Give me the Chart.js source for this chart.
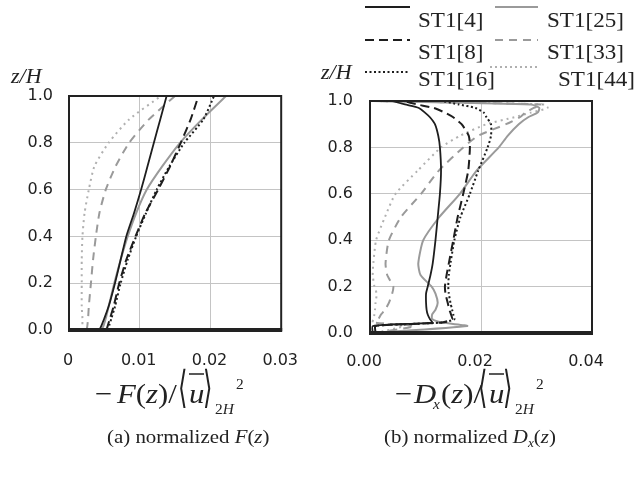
<!DOCTYPE html>
<html>
<head>
<meta charset="utf-8">
<script src="https://cdn.jsdelivr.net/npm/chart.js@4.4.0/dist/chart.umd.min.js"></script>
<style>
  html, body { margin: 0; padding: 0; background: #fff; }
  #page { position: relative; width: 636px; height: 480px; overflow: hidden; }
  canvas { position: absolute; }
  #chartA { left: 0; top: 60px; width: 320px; height: 320px; }
  #chartB { left: 310px; top: 60px; width: 326px; height: 320px; }
  svg { position: absolute; left: 0; top: 0; }
</style>
</head>
<body>
<div id="page">
  <canvas id="chartA" width="320" height="320"></canvas>
  <canvas id="chartB" width="326" height="320"></canvas>
  <svg width="636" height="480" font-family="Liberation Serif" fill="#222">
    <!-- legend -->
    <line x1="365" y1="7" x2="410" y2="7" stroke="#1e1e1e" stroke-width="2"/>
    <line x1="495" y1="7" x2="538" y2="7" stroke="#9a9a9a" stroke-width="2"/>
    <line x1="365" y1="40" x2="410" y2="40" stroke="#1e1e1e" stroke-width="2" stroke-dasharray="9 5"/>
    <line x1="495" y1="40" x2="538" y2="40" stroke="#9a9a9a" stroke-width="2" stroke-dasharray="8 6"/>
    <line x1="365" y1="72" x2="410" y2="72" stroke="#1e1e1e" stroke-width="2" stroke-dasharray="2 2.5"/>
    <line x1="490" y1="67" x2="538" y2="67" stroke="#b0b0b0" stroke-width="2" stroke-dasharray="2 3"/>
    <g font-size="21">
      <text transform="translate(418,27) scale(1.1,1)">ST1[4]</text>
      <text transform="translate(547,27) scale(1.1,1)">ST1[25]</text>
      <text transform="translate(418,59) scale(1.1,1)">ST1[8]</text>
      <text transform="translate(547,59) scale(1.1,1)">ST1[33]</text>
      <text transform="translate(418,86) scale(1.1,1)">ST1[16]</text>
      <text transform="translate(558,86) scale(1.1,1)">ST1[44]</text>
    </g>
    <!-- z/H labels -->
    <g font-size="20" font-style="italic">
      <text transform="translate(11,83) scale(1.1,1)">z/H</text>
      <text transform="translate(321,79) scale(1.1,1)">z/H</text>
    </g>
    <!-- axis title (a) -->
    <g font-size="28">
      <text transform="translate(95,403) scale(1.1,1)">−</text>
      <text transform="translate(117,403) scale(1.1,1)"><tspan font-style="italic">F</tspan>(<tspan font-style="italic">z</tspan>)/</text>
      <text transform="translate(178,402) scale(0.55,1)" font-family="DejaVu Sans" font-size="44">⟨</text>
      <text transform="translate(189,403) scale(1.1,1)" font-style="italic">u</text>
      <text transform="translate(203,402) scale(0.55,1)" font-family="DejaVu Sans" font-size="44">⟩</text>
      <text transform="translate(215,414) scale(1.1,1)" font-size="14">2<tspan font-style="italic">H</tspan></text>
      <text transform="translate(236,389) scale(1.1,1)" font-size="14">2</text>
    </g>
    <line x1="189" y1="374" x2="204" y2="374" stroke="#222" stroke-width="1.5"/>
    <!-- axis title (b) -->
    <g font-size="28">
      <text transform="translate(395,403) scale(1.1,1)">−</text>
      <text transform="translate(414,403) scale(1.1,1)" font-style="italic">D</text>
      <text transform="translate(433,409) scale(1.1,1)" font-style="italic" font-size="14">x</text>
      <text transform="translate(441,403) scale(1.1,1)">(<tspan font-style="italic">z</tspan>)/</text>
      <text transform="translate(478,402) scale(0.55,1)" font-family="DejaVu Sans" font-size="44">⟨</text>
      <text transform="translate(489,403) scale(1.1,1)" font-style="italic">u</text>
      <text transform="translate(503,402) scale(0.55,1)" font-family="DejaVu Sans" font-size="44">⟩</text>
      <text transform="translate(515,414) scale(1.1,1)" font-size="14">2<tspan font-style="italic">H</tspan></text>
      <text transform="translate(536,389) scale(1.1,1)" font-size="14">2</text>
    </g>
    <line x1="489" y1="374" x2="504" y2="374" stroke="#222" stroke-width="1.5"/>
    <!-- captions -->
    <g font-size="19">
      <text transform="translate(107,443) scale(1.1,1)">(a) normalized <tspan font-style="italic">F</tspan>(<tspan font-style="italic">z</tspan>)</text>
      <text transform="translate(384,443) scale(1.1,1)">(b) normalized <tspan font-style="italic">D</tspan><tspan font-style="italic" font-size="12" dy="4">x</tspan><tspan dy="-4">(</tspan><tspan font-style="italic">z</tspan>)</text>
    </g>
  </svg>
</div>
<script>
// heights z/H, shared by all series of a panel
var zA = [0, 0.02, 0.05, 0.1, 0.2, 0.3, 0.4, 0.5, 0.6, 0.7, 0.8, 0.9, 1.0];
var zB = [0, 0.03, 0.045, 0.06, 0.08, 0.1, 0.13, 0.17, 0.2, 0.25, 0.3, 0.4, 0.5,
          0.6, 0.7, 0.8, 0.85, 0.9, 0.93, 0.95, 0.97, 0.985, 1.0];

var seriesNames = ['ST1[4]', 'ST1[8]', 'ST1[16]', 'ST1[25]', 'ST1[33]', 'ST1[44]'];

// (a) -F(z)/<u>^2
var fA_st4  = [0.0043, 0.0046, 0.0050, 0.0056, 0.0065, 0.0073, 0.0081, 0.0092, 0.0102, 0.0111, 0.0120, 0.0129, 0.0138];
var fA_st8  = [0.0053, 0.0055, 0.0058, 0.0063, 0.0071, 0.0081, 0.0094, 0.0108, 0.0126, 0.0143, 0.0158, 0.0172, 0.0183];
var fA_st16 = [0.0055, 0.0057, 0.0060, 0.0065, 0.0073, 0.0083, 0.0095, 0.0109, 0.0124, 0.0142, 0.0163, 0.0190, 0.0205];
var fA_st25 = [0.0046, 0.0049, 0.0052, 0.0056, 0.0064, 0.0073, 0.0083, 0.0095, 0.0110, 0.0132, 0.0157, 0.0188, 0.0222];
var fA_st33 = [0.0025, 0.0026, 0.0027, 0.0028, 0.0031, 0.0034, 0.0038, 0.0043, 0.0052, 0.0066, 0.0085, 0.0113, 0.0150];
var fA_st44 = [0.0020, 0.0019, 0.0019, 0.0018, 0.0018, 0.0018, 0.0019, 0.0022, 0.0028, 0.0036, 0.0056, 0.0085, 0.0130];

// (b) -Dx(z)/<u>^2
var dB_st4  = [0.0005, 0.0005, 0.0112, 0.0108, 0.0104, 0.0102, 0.0101, 0.0101, 0.0104, 0.0109, 0.0113, 0.0118, 0.0122,
               0.0126, 0.0128, 0.0126, 0.0123, 0.0117, 0.0108, 0.0099, 0.0088, 0.0063, 0.0040];
var dB_st8  = [0.0010, 0.0010, 0.0130, 0.0148, 0.0146, 0.0143, 0.0140, 0.0136, 0.0135, 0.0138, 0.0142, 0.0150, 0.0158,
               0.0168, 0.0177, 0.0180, 0.0178, 0.0165, 0.0150, 0.0135, 0.0115, 0.0085, 0.0060];
var dB_st16 = [0.0010, 0.0010, 0.0130, 0.0152, 0.0150, 0.0148, 0.0145, 0.0142, 0.0141, 0.0142, 0.0145, 0.0152, 0.0163,
               0.0180, 0.0195, 0.0212, 0.0218, 0.0218, 0.0210, 0.0205, 0.0190, 0.0160, 0.0130];
var dB_st25 = [0.0005, 0.0175, 0.0130, 0.0112, 0.0112, 0.0118, 0.0122, 0.0118, 0.0111, 0.0091, 0.0087, 0.0096, 0.0125,
               0.0162, 0.0192, 0.0232, 0.0248, 0.0268, 0.0285, 0.0302, 0.0305, 0.0290, 0.0005];
var dB_st33 = [0.0010, 0.0080, 0.0010, 0.0015, 0.0020, 0.0027, 0.0034, 0.0040, 0.0042, 0.0031, 0.0028, 0.0034, 0.0056,
               0.0092, 0.0124, 0.0168, 0.0195, 0.0245, 0.0270, 0.0280, 0.0295, 0.0310, 0.0010];
var dB_st44 = [0.0010, 0.0060, 0.0005, 0.0006, 0.0008, 0.0009, 0.0010, 0.0012, 0.0008, 0.0005, 0.0006, 0.0011, 0.0027,
               0.0046, 0.0086, 0.0128, 0.0162, 0.0210, 0.0260, 0.0290, 0.0320, 0.0315, 0.0010];

var yTicks = [0, 0.2, 0.4, 0.6, 0.8, 1.0];
var yLabels = ['0.0', '0.2', '0.4', '0.6', '0.8', '1.0'];
var xTicksA = [0, 0.01, 0.02, 0.03];
var xLabelsA = ['0', '0.01', '0.02', '0.03'];
var xTicksB = [0, 0.02, 0.04];
var xLabelsB = ['0.00', '0.02', '0.04'];

// line look per series, same order as seriesNames
var styles = [
    { color: '#1e1e1e', dash: [], width: 1.8 },
    { color: '#1e1e1e', dash: [9, 5], width: 2 },
    { color: '#1e1e1e', dash: [2, 2.5], width: 2 },
    { color: '#9a9a9a', dash: [], width: 2 },
    { color: '#9a9a9a', dash: [8, 6], width: 2 },
    { color: '#b0b0b0', dash: [2, 4], width: 2 }
];

var framePlugin = {
    id: 'frame',
    afterDatasetsDraw: function (chart) {
        var a = chart.chartArea, ctx = chart.ctx;
        ctx.save();
        ctx.strokeStyle = '#222';
        ctx.lineWidth = 2;
        ctx.strokeRect(a.left, a.top, a.right - a.left, a.bottom - a.top);
        ctx.lineWidth = 4;
        ctx.beginPath();
        ctx.moveTo(a.left - 1, a.bottom);
        ctx.lineTo(a.right + 1, a.bottom);
        ctx.stroke();
        ctx.restore();
    }
};

function toPoints(zs, xs) {
    return zs.map(function (z, i) { return { x: xs[i], y: z }; });
}

function makeChart(id, zs, values, xMax, xTicks, xLabels, box) {
    var datasets = values.map(function (xs, i) {
        return {
            label: seriesNames[i],
            data: toPoints(zs, xs),
            showLine: true,
            borderColor: styles[i].color,
            borderDash: styles[i].dash,
            borderWidth: styles[i].width,
            pointRadius: 0,
            tension: 0.2,
            fill: false
        };
    });
    var tickFont = { family: 'DejaVu Sans', size: 16 };
    return new Chart(document.getElementById(id), {
        type: 'scatter',
        data: { datasets: datasets },
        plugins: [framePlugin],
        options: {
            responsive: false,
            animation: false,
            events: [],
            layout: { padding: { left: 0, top: box.top, right: box.right, bottom: 0 } },
            plugins: { legend: { display: false }, tooltip: { enabled: false } },
            scales: {
                x: {
                    type: 'linear',
                    min: 0,
                    max: xMax,
                    afterBuildTicks: function (s) { s.ticks = xTicks.map(function (v) { return { value: v }; }); },
                    afterFit: function (s) { s.height = box.xHeight; },
                    ticks: {
                        font: tickFont, color: '#222', padding: box.xPad, labelOffset: box.xShift,
                        maxRotation: 0, autoSkip: false,
                        callback: function (v, i) { return xLabels[i]; }
                    },
                    grid: { color: '#c4c4c4', lineWidth: 1, drawTicks: false },
                    border: { display: false }
                },
                y: {
                    type: 'linear',
                    min: 0,
                    max: 1,
                    afterBuildTicks: function (s) { s.ticks = yTicks.map(function (v) { return { value: v }; }); },
                    afterFit: function (s) { s.width = box.yWidth; },
                    ticks: {
                        font: tickFont, color: '#222', padding: box.yPad, autoSkip: false,
                        callback: function (v, i) { return yLabels[i]; }
                    },
                    grid: { color: '#c4c4c4', lineWidth: 1, drawTicks: false },
                    border: { display: false }
                }
            }
        }
    });
}

makeChart('chartA', zA, [fA_st4, fA_st8, fA_st16, fA_st25, fA_st33, fA_st44], 0.03, xTicksA, xLabelsA,
    { top: 36, right: 22, xHeight: 50, yWidth: 69, xPad: 21, yPad: 16, xShift: -1 });
makeChart('chartB', zB, [dB_st4, dB_st8, dB_st16, dB_st25, dB_st33, dB_st44], 0.04, xTicksB, xLabelsB,
    { top: 41, right: 44, xHeight: 47, yWidth: 60, xPad: 19, yPad: 17, xShift: -6 });
</script>
</body>
</html>
